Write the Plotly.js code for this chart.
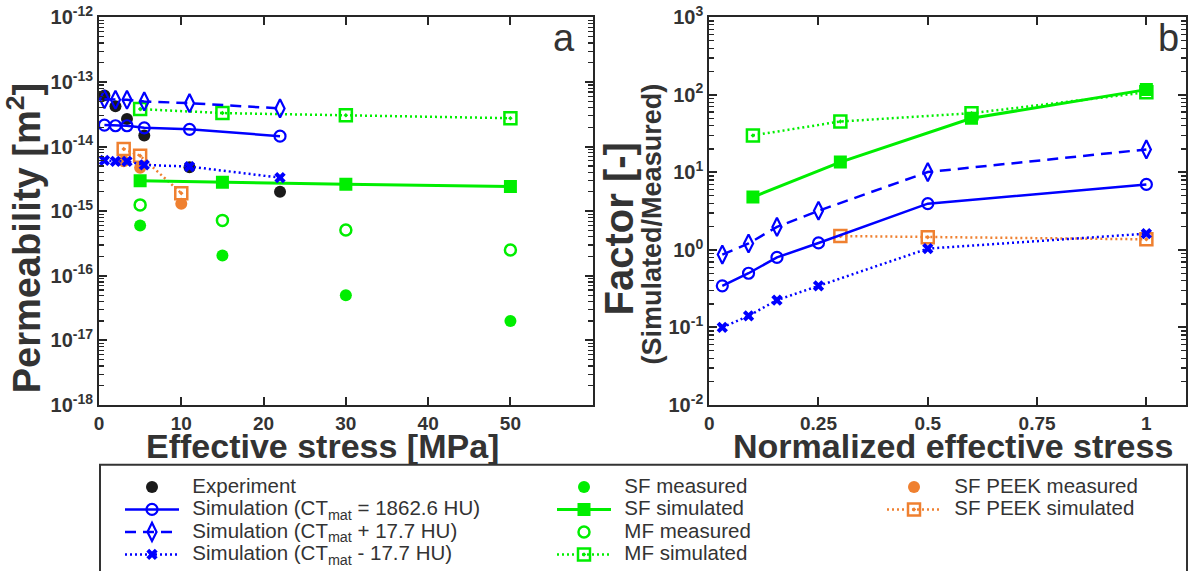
<!DOCTYPE html>
<html>
<head>
<meta charset="utf-8">
<script src="https://cdn.plot.ly/plotly-3.0.1.min.js"></script>
<style>html,body{margin:0;padding:0;background:#fff;}#chart{width:1191px;height:571px;}</style>
</head>
<body>
<div id="chart"></div>
<script>
// ---------- Panel a : permeability vs effective stress ----------
const stressExp     = [0.66, 2, 3.4, 5.5, 11, 22];
const permExp       = [6.2e-14, 4.2e-14, 2.66e-14, 1.48e-14, 4.8e-15, 2.0e-15];
const permSim       = [2.15e-14, 2.1e-14, 2.1e-14, 1.95e-14, 1.85e-14, 1.45e-14];
const permSimPlus   = [5.4e-14, 5.3e-14, 5.3e-14, 5.0e-14, 4.7e-14, 3.9e-14];
const permSimMinus  = [6.1e-15, 5.9e-15, 5.9e-15, 5.2e-15, 4.9e-15, 3.3e-15];
const stressSF      = [5, 15, 30, 50];
const permSFmeas    = [6.0e-16, 2.05e-16, 5.0e-17, 2.0e-17];
const permSFsim     = [2.95e-15, 2.8e-15, 2.6e-15, 2.4e-15];
const permMFmeas    = [1.25e-15, 7.2e-16, 5.1e-16, 2.5e-16];
const permMFsim     = [3.8e-14, 3.3e-14, 3.05e-14, 2.75e-14];
const stressPEEK    = [3, 5, 10];
const permPEEKmeas  = [5.9e-15, 4.7e-15, 1.3e-15];
const permPEEKsim   = [9.2e-15, 7.2e-15, 1.9e-15];

// ---------- Panel b : factor vs normalized effective stress ----------
const normExp        = [0.03, 0.09, 0.155, 0.25, 0.5, 1];
const factorSim      = [0.344, 0.50, 0.80, 1.23, 3.95, 7.0];
const factorSimPlus  = [0.87, 1.21, 1.98, 3.2, 10.1, 19.8];
const factorSimMinus = [0.10, 0.141, 0.225, 0.344, 1.04, 1.62];
const normSF         = [0.1, 0.3, 0.6, 1];
const factorSF       = [4.8, 13.6, 50, 117];
const factorMF       = [30, 45.4, 58, 108];
const normPEEK       = [0.3, 0.5, 1];
const factorPEEK     = [1.51, 1.46, 1.37];

// ---------- tick labels ----------
const permTickVals   = [1e-18, 1e-17, 1e-16, 1e-15, 1e-14, 1e-13, 1e-12];
const permTickText   = ['10<sup>-18</sup>','10<sup>-17</sup>','10<sup>-16</sup>','10<sup>-15</sup>','10<sup>-14</sup>','10<sup>-13</sup>','10<sup>-12</sup>'];
const stressTickVals = [0, 10, 20, 30, 40, 50];
const factorTickVals = [0.01, 0.1, 1, 10, 100, 1000];
const factorTickText = ['10<sup>-2</sup>','10<sup>-1</sup>','10<sup>0</sup>','10<sup>1</sup>','10<sup>2</sup>','10<sup>3</sup>'];
const normTickVals   = [0, 0.25, 0.5, 0.75, 1];
const normTickText   = ['0', '0.25', '0.5', '0.75', '1'];

const legendNames = {
  exp: 'Experiment',
  sim: 'Simulation (CT<sub>mat</sub> = 1862.6 HU)',
  simPlus: 'Simulation (CT<sub>mat</sub> + 17.7 HU)',
  simMinus: 'Simulation (CT<sub>mat</sub> - 17.7 HU)',
  sfMeas: 'SF measured', sfSim: 'SF simulated',
  mfMeas: 'MF measured', mfSim: 'MF simulated',
  peekMeas: 'SF PEEK measured', peekSim: 'SF PEEK simulated'
};

const BLUE = '#0000ff', GREEN = '#00ee00', ORANGE = '#ef8030', BLACK = '#1a1a1a';
const FONT = '"Liberation Sans", Arial, sans-serif';
const TXT = '#333333';
// legend label styling (larger glyphs, compact rows)
const lg = s => '\u00a0\u00a0<span style="font-size:20.5px">' + s + '</span>';

function tr(o){ return Object.assign({type:'scatter'}, o); }

const traces = [
  // panel a
  tr({x:stressExp, y:permExp, mode:'markers', name:lg(legendNames.exp), legend:'legend', legendrank:1,
      marker:{symbol:'circle', size:12, color:BLACK}}),
  tr({x:stressSF, y:permSFmeas, mode:'markers', name:lg(legendNames.sfMeas), legend:'legend2', legendrank:1,
      marker:{symbol:'circle', size:12, color:GREEN}}),
  tr({x:stressSF, y:permMFmeas, mode:'markers', name:lg(legendNames.mfMeas), legend:'legend2', legendrank:3,
      marker:{symbol:'circle-open', size:11, color:GREEN, line:{width:2.5}}}),
  tr({x:stressPEEK, y:permPEEKmeas, mode:'markers', name:lg(legendNames.peekMeas), legend:'legend3', legendrank:1,
      marker:{symbol:'circle', size:12, color:ORANGE}}),
  tr({x:stressPEEK, y:permPEEKsim, mode:'lines+markers', name:lg(legendNames.peekSim), legend:'legend3', legendrank:2,
      line:{color:ORANGE, width:2.5, dash:'2px,3px'}, marker:{symbol:'square-open-dot', size:12, color:ORANGE, line:{width:2.5}}}),
  tr({x:stressSF, y:permSFsim, mode:'lines+markers', name:lg(legendNames.sfSim), legend:'legend2', legendrank:2,
      line:{color:GREEN, width:3}, marker:{symbol:'square', size:13, color:GREEN}}),
  tr({x:stressSF, y:permMFsim, mode:'lines+markers', name:lg(legendNames.mfSim), legend:'legend2', legendrank:4,
      line:{color:GREEN, width:2.5, dash:'2px,3px'}, marker:{symbol:'square-open-dot', size:12, color:GREEN, line:{width:2.5}}}),
  tr({x:stressExp, y:permSim, mode:'lines+markers', name:lg(legendNames.sim), legend:'legend', legendrank:2,
      line:{color:BLUE, width:2.5}, marker:{symbol:'circle-open', size:11, color:BLUE, line:{width:2.2}}}),
  tr({x:stressExp, y:permSimPlus, mode:'lines+markers', name:lg(legendNames.simPlus), legend:'legend', legendrank:3,
      line:{color:BLUE, width:2.5, dash:'11px,7px'}, marker:{symbol:'diamond-tall-open', size:13, color:BLUE, line:{width:2.2}}}),
  tr({x:stressExp, y:permSimMinus, mode:'lines+markers', name:lg(legendNames.simMinus), legend:'legend', legendrank:4,
      line:{color:BLUE, width:2.5, dash:'2px,3px'}, marker:{symbol:'x', size:10, color:BLUE}}),
  // panel b
  tr({x:normPEEK, y:factorPEEK, xaxis:'x2', yaxis:'y2', mode:'lines+markers', showlegend:false,
      line:{color:ORANGE, width:2.5, dash:'2px,3px'}, marker:{symbol:'square-open-dot', size:12, color:ORANGE, line:{width:2.5}}}),
  tr({x:normSF, y:factorMF, xaxis:'x2', yaxis:'y2', mode:'lines+markers', showlegend:false,
      line:{color:GREEN, width:2.5, dash:'2px,3px'}, marker:{symbol:'square-open-dot', size:12, color:GREEN, line:{width:2.5}}}),
  tr({x:normSF, y:factorSF, xaxis:'x2', yaxis:'y2', mode:'lines+markers', showlegend:false,
      line:{color:GREEN, width:3}, marker:{symbol:'square', size:13, color:GREEN}}),
  tr({x:normExp, y:factorSim, xaxis:'x2', yaxis:'y2', mode:'lines+markers', showlegend:false,
      line:{color:BLUE, width:2.5}, marker:{symbol:'circle-open', size:11, color:BLUE, line:{width:2.2}}}),
  tr({x:normExp, y:factorSimPlus, xaxis:'x2', yaxis:'y2', mode:'lines+markers', showlegend:false,
      line:{color:BLUE, width:2.5, dash:'11px,7px'}, marker:{symbol:'diamond-tall-open', size:13, color:BLUE, line:{width:2.2}}}),
  tr({x:normExp, y:factorSimMinus, xaxis:'x2', yaxis:'y2', mode:'lines+markers', showlegend:false,
      line:{color:BLUE, width:2.5, dash:'2px,3px'}, marker:{symbol:'x', size:10, color:BLUE}})
];

const W = 1191, H = 571;
const px = v => v / W;
const py = v => 1 - v / H;
const yDom = [py(407.8), py(17.5)];

const axLine = {showline:true, linecolor:'#262626', linewidth:2, mirror:'ticks', ticks:'inside',
  ticklen:8, tickwidth:2, tickcolor:'#262626', showgrid:false, zeroline:false, automargin:false};
const tickFontY = {family:FONT, size:20, color:TXT, weight:'bold'};
const tickFontX = {family:FONT, size:19, color:TXT, weight:'bold'};
const minorLog = {ticks:'inside', ticklen:5, tickwidth:1.2, tickcolor:'#262626', dtick:'D1', showgrid:false};

const legendBase = {bgcolor:'rgba(0,0,0,0)', borderwidth:0, orientation:'v', yanchor:'top', xanchor:'left',
  font:{family:FONT, size:15, color:TXT}, itemwidth:54, tracegroupgap:0, itemclick:false};

const ann = (text, x, y, size, opts) => Object.assign({text, x:px(x), y:py(y), xref:'paper', yref:'paper',
  showarrow:false, xanchor:'center', yanchor:'middle', font:{family:FONT, size, color:TXT, weight:'bold'}}, opts||{});

const layout = {
  width:W, height:H, margin:{l:0, r:0, t:0, b:0}, paper_bgcolor:'#fff', plot_bgcolor:'#fff',
  showlegend:true,
  xaxis: Object.assign({}, axLine, {domain:[px(99), px(592.7)], range:[0, 60], tickmode:'array',
    tickvals:stressTickVals, tickfont:tickFontX, ticklabelstandoff:0, anchor:'y'}),
  yaxis: Object.assign({}, axLine, {domain:yDom, type:'log', range:[-18, -12], tickmode:'array',
    tickvals:permTickVals, ticktext:permTickText, tickfont:tickFontY, minor:minorLog, anchor:'x'}),
  xaxis2: Object.assign({}, axLine, {domain:[px(709.2), px(1185.7)], range:[0, 1.09], tickmode:'array',
    tickvals:normTickVals, ticktext:normTickText, tickfont:tickFontX, ticklabelstandoff:0, anchor:'y2'}),
  yaxis2: Object.assign({}, axLine, {domain:yDom, type:'log', range:[-2, 3], tickmode:'array',
    tickvals:factorTickVals, ticktext:factorTickText, tickfont:tickFontY, minor:minorLog, anchor:'x2'}),
  legend:  Object.assign({}, legendBase, {x:px(120), y:py(474)}),
  legend2: Object.assign({}, legendBase, {x:px(552), y:py(474)}),
  legend3: Object.assign({}, legendBase, {x:px(882), y:py(474)}),
  shapes:[{type:'rect', xref:'paper', yref:'paper', x0:px(100), x1:px(1187), y0:py(580), y1:py(468),
    line:{color:'#333333', width:2}, fillcolor:'rgba(0,0,0,0)'}],
  annotations:[
    ann('Permeability [m<sup>2</sup>]', 24, 240, 38, {textangle:-90}),
    ann('Effective stress [MPa]', 322, 449, 34),
    ann('Factor [-]', 619, 231, 40, {textangle:-90}),
    ann('(Simulated/Measured)', 652, 226, 27, {textangle:-90}),
    ann('Normalized effective stress', 953, 449, 34),
    ann('a', 564, 38, 38, {font:{family:FONT, size:38, color:TXT}}),
    ann('b', 1168, 38, 38, {font:{family:FONT, size:38, color:TXT}})
  ]
};

Plotly.newPlot('chart', traces, layout, {staticPlot:true, displayModeBar:false});
</script>
</body>
</html>
